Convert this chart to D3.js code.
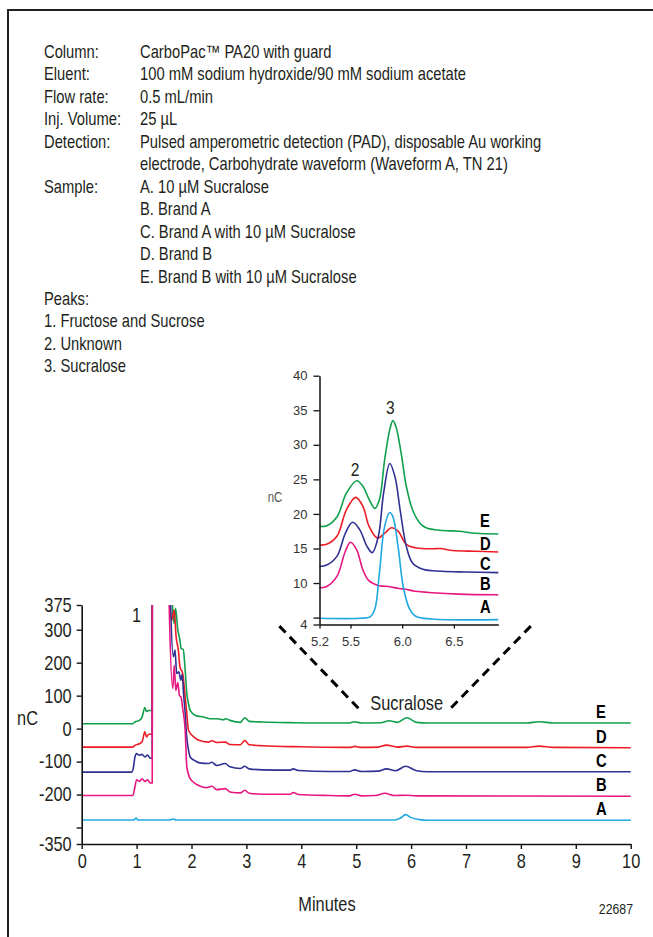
<!DOCTYPE html>
<html>
<head>
<meta charset="utf-8">
<script src="https://cdn.jsdelivr.net/npm/d3@7"></script>
<style>
  body { margin: 0; background: #fff; }
  svg { display: block; }
</style>
</head>
<body>
<div id="chart"></div>
<script>

const FRAME_WIDTH = 653;
const FRAME_HEIGHT = 937;
const ARIAL = "'Liberation Sans', Arial, sans-serif";
const SQUEEZE = 0.82;   // arial squeezed to look like a condensed face
const INK = "#231f20";

// header block
const INFO_LABELS = ["Column:", "Eluent:", "Flow rate:", "Inj. Volume:", "Detection:", "", "Sample:", "", "", "", "",
  "Peaks:", "1. Fructose and Sucrose", "2. Unknown", "3. Sucralose"];
const INFO_VALUES = ["CarboPac\u2122 PA20 with guard", "100 mM sodium hydroxide/90 mM sodium acetate", "0.5 mL/min", "25 \u00b5L",
  "Pulsed amperometric detection (PAD), disposable Au working", "electrode, Carbohydrate waveform (Waveform A, TN 21)",
  "A. 10 \u00b5M Sucralose", "B. Brand A", "C. Brand A with 10 \u00b5M Sucralose", "D. Brand B", "E. Brand B with 10 \u00b5M Sucralose",
  "", "", "", ""];

// samples, drawn in this order (B ends up on top)
const SAMPLES = ["E", "D", "C", "B", "A"];
const COLORS = {A: "#1fa9e1", B: "#e6177f", C: "#2e3191", D: "#ec1c24", E: "#0f9f4d"};

// main chromatogram ticks
const MAIN_X_TICKS = [0, 1, 2, 3, 4, 5, 6, 7, 8, 9, 10];
const MAIN_Y_TICKS = [375, 300, 200, 100, 0, -100, -200, -300, -350];
const MAIN_Y_HIDDEN = [-300];

// main traces: [minutes, nC]  (9999 = off scale, main peak 1)
const mainE = [[0, 15], [0.93, 15], [0.97, 20], [1.05, 25], [1.1, 35], [1.15, 64], [1.18, 52], [1.22, 55], [1.27, 55], [1.285, 55],
  [1.3, 9999], [1.6, 9999], [1.655, 372], [1.68, 320], [1.71, 365], [1.75, 300], [1.79, 268], [1.81, 243], [1.85, 240], [1.885, 177],
  [1.915, 106], [1.94, 80], [1.976, 55], [2.07, 40], [2.22, 35], [2.34, 30], [2.46, 30], [2.58, 27], [2.62, 30], [2.7, 25],
  [2.89, 19], [2.97, 33], [3.05, 22], [3.3, 20], [3.9, 18], [4.5, 17], [4.88, 17], [4.97, 21], [5.1, 17], [5.45, 18], [5.6, 24],
  [5.75, 19], [5.92, 33], [6.1, 19], [6.3, 17], [8.1, 17], [8.33, 21], [8.6, 17], [10, 17]];
const mainD = [[0, -56], [0.93, -56], [0.97, -51], [1.05, -46], [1.1, -40], [1.15, -10], [1.18, -25], [1.22, -17], [1.27, -17], [1.285, -17],
  [1.3, 9999], [1.58, 9999], [1.61, 375], [1.64, 329], [1.685, 360], [1.72, 278], [1.76, 238], [1.79, 187], [1.84, 167], [1.885, 96],
  [1.915, 46], [1.945, -5], [2.04, -25], [2.15, -36], [2.31, -41], [2.37, -37], [2.46, -42], [2.615, -41], [2.7, -48], [2.89, -49],
  [2.97, -36], [3.05, -49], [3.3, -52], [4, -55], [4.88, -57], [4.97, -54], [5.1, -57], [5.4, -56], [5.55, -50], [5.75, -56],
  [5.92, -53], [6.1, -57], [8.1, -57], [8.33, -53], [8.6, -57], [10, -58]];
const mainC = [[0, -132], [0.91, -132], [0.94, -120], [0.97, -86], [1.0, -76], [1.05, -81], [1.1, -78], [1.15, -86], [1.2, -80], [1.25, -90], [1.285, -90],
  [1.3, 9999], [1.58, 9999], [1.62, 375], [1.67, 218], [1.7, 238], [1.73, 167], [1.77, 172], [1.805, 147], [1.83, 165], [1.855, 106],
  [1.885, 46], [1.91, -20], [1.94, -60], [1.976, -86], [2.07, -98], [2.15, -104], [2.31, -106], [2.37, -102], [2.46, -112], [2.615, -106],
  [2.7, -116], [2.89, -121], [2.97, -114], [3.05, -122], [3.3, -125], [3.8, -126], [3.85, -122], [3.95, -127], [4.5, -130], [4.88, -130],
  [4.97, -125], [5.1, -130], [5.4, -129], [5.55, -122], [5.72, -128], [5.9, -114], [6.1, -128], [6.3, -131], [10, -131]];
const mainB = [[0, -203], [0.93, -203], [0.97, -177], [1.0, -155], [1.05, -160], [1.1, -152], [1.15, -160], [1.2, -155], [1.25, -165], [1.285, -165],
  [1.3, 9999], [1.57, 9999], [1.594, 375], [1.66, 122], [1.685, 192], [1.715, 116], [1.75, 140], [1.78, 101], [1.81, 95], [1.84, 60],
  [1.885, -5], [1.915, -117], [1.976, -152], [2.07, -167], [2.15, -174], [2.27, -179], [2.37, -175], [2.46, -185], [2.615, -182],
  [2.7, -192], [2.89, -195], [2.97, -187], [3.05, -196], [3.3, -199], [3.8, -199], [3.85, -194], [3.95, -200], [4.5, -203], [4.88, -204],
  [4.97, -199], [5.1, -204], [5.35, -203], [5.52, -196], [5.7, -203], [5.9, -202], [6.1, -204], [10, -205]];
const mainA = [[0, -277], [0.95, -277], [0.99, -271], [1.02, -277], [1.6, -277], [1.67, -274], [1.72, -277], [5.7, -277], [5.8, -272],
  [5.9, -261], [6.0, -270], [6.15, -276], [6.3, -278], [10, -278]];
const MAIN_TRACES = {A: mainA, B: mainB, C: mainC, D: mainD, E: mainE};

// inset (5.2 - 6.9 min)
const INSET_X_TICKS = [5.2, 5.5, 6.0, 6.5];
const INSET_Y_TICKS = [40, 35, 30, 25, 20, 15, 10, 5, 4];
const INSET_Y_HIDDEN = [5];

const insetE = [[5.2, 18.2], [5.27, 18.3], [5.37, 19.6], [5.46, 23.0], [5.56, 24.8], [5.62, 24.0], [5.68, 22.1], [5.735, 20.8], [5.78, 22.1],
  [5.83, 27.8], [5.88, 32.2], [5.91, 33.5], [5.94, 32.6], [5.99, 28.8], [6.04, 24.0], [6.1, 20.6], [6.17, 18.7], [6.23, 18.0],
  [6.39, 17.6], [6.55, 17.5], [6.71, 17.2], [6.93, 17.1]];
const insetD = [[5.2, 15.5], [5.27, 15.6], [5.37, 16.8], [5.46, 20.6], [5.55, 22.4], [5.62, 21.1], [5.68, 18.2], [5.76, 16.5], [5.83, 17.2],
  [5.895, 18.0], [5.96, 17.5], [6.04, 15.6], [6.13, 15.1], [6.29, 14.95], [6.37, 15.0], [6.49, 14.7], [6.71, 14.6], [6.93, 14.5]];
const insetC = [[5.2, 12.4], [5.27, 12.6], [5.37, 13.9], [5.45, 17.2], [5.52, 18.8], [5.59, 17.7], [5.66, 15.3], [5.71, 14.4], [5.77, 16.8],
  [5.82, 23.0], [5.88, 27.3], [5.93, 25.4], [5.98, 20.6], [6.04, 15.3], [6.1, 12.9], [6.2, 12.0], [6.39, 11.7], [6.61, 11.6], [6.93, 11.5]];
const insetB = [[5.2, 9.3], [5.27, 9.5], [5.37, 11.0], [5.45, 14.6], [5.5, 15.9], [5.56, 14.8], [5.62, 11.9], [5.68, 10.3], [5.78, 9.6],
  [5.87, 9.5], [5.97, 9.2], [6.03, 9.1], [6.13, 8.8], [6.29, 8.6], [6.55, 8.4], [6.93, 8.3]];
const insetA = [[5.2, 4.9], [5.59, 4.9], [5.69, 5.1], [5.735, 6.2], [5.78, 11.5], [5.83, 18.2], [5.88, 20.2], [5.91, 19.6], [5.96, 15.3],
  [6.01, 9.5], [6.07, 6.3], [6.13, 5.2], [6.29, 4.8], [6.93, 4.7]];
const INSET_TRACES = {A: insetA, B: insetB, C: insetC, D: insetD, E: insetE};
// where the sample letters of the inset sit (nC)
const INSET_LABEL_AT = {E: 18.1, D: 14.8, C: 11.9, B: 9.0, A: 5.6};

// connector from the sucralose region to the inset, in main-chart units
const GUIDE_LEFT = [[3.6, 311], [5.05, 60]];
const GUIDE_RIGHT = [[8.18, 311], [6.67, 53]];


const FRAME1 = d3.select("#chart")
  .append("svg")
    .attr("width", FRAME_WIDTH)
    .attr("height", FRAME_HEIGHT);

// condensed-looking text
function narrowText(parent, x, y, str, size) {
  return parent.append("text")
    .attr("transform", "translate(" + x + "," + y + ") scale(" + SQUEEZE + ",1)")
    .attr("font-family", ARIAL)
    .attr("font-size", size)
    .attr("fill", INK)
    .text(str);
}

// page border (left + top visible)
FRAME1.append("path")
  .attr("d", "M8," + FRAME_HEIGHT + "V10H" + FRAME_WIDTH)
  .attr("fill", "none")
  .attr("stroke", INK)
  .attr("stroke-width", 2);

// header text
INFO_LABELS.forEach((t, i) => {
  const yy = 58 + i * 22.45;
  if (t) narrowText(FRAME1, 44, yy, t, 18);
  if (INFO_VALUES[i]) narrowText(FRAME1, 140, yy, INFO_VALUES[i], 18);
});

// ---------- main chromatogram ----------
const MAIN = {left: 81.7, right: 630.7, top: 605, bottom: 844};

const x = d3.scaleLinear().domain([0, 10]).range([MAIN.left, MAIN.right]);
const y = d3.scaleLinear().domain([-350, 375]).range([MAIN.bottom, MAIN.top]);

FRAME1.append("clipPath")
  .attr("id", "mainclip")
  .append("rect")
    .attr("x", MAIN.left)
    .attr("y", MAIN.top)
    .attr("width", MAIN.right - MAIN.left + 4)
    .attr("height", MAIN.bottom - MAIN.top);

const mainLine = d3.line()
  .x(d => x(d[0]))
  .y(d => y(d[1]))
  .curve(d3.curveMonotoneX);

const mainG = FRAME1.append("g").attr("clip-path", "url(#mainclip)");
SAMPLES.forEach(s => {
  mainG.append("path")
    .datum(MAIN_TRACES[s])
    .attr("d", mainLine)
    .attr("fill", "none")
    .attr("stroke", COLORS[s])
    .attr("stroke-width", 1.6)
    .attr("stroke-linejoin", "round");
});

// axes
const xAxis = FRAME1.append("g")
  .attr("transform", "translate(0," + MAIN.bottom + ")")
  .call(d3.axisBottom(x).tickValues(MAIN_X_TICKS).tickSize(5).tickSizeOuter(0).tickPadding(5).tickFormat(d => String(d)));

const yAxis = FRAME1.append("g")
  .attr("transform", "translate(" + MAIN.left + ",0)")
  .call(d3.axisLeft(y).tickValues(MAIN_Y_TICKS).tickSize(5).tickSizeOuter(0).tickPadding(5)
    .tickFormat(d => MAIN_Y_HIDDEN.includes(d) ? "" : String(d)));

[xAxis, yAxis].forEach(g => {
  g.attr("font-family", ARIAL).attr("font-size", 20);
  g.select(".domain").attr("stroke", "#111").attr("stroke-width", 1.6);
  g.selectAll(".tick line").attr("stroke", "#111").attr("stroke-width", 1.4);
  g.selectAll(".tick text").attr("fill", INK).attr("transform", "scale(" + SQUEEZE + ",1)");
});
yAxis.selectAll(".tick text").attr("x", -10 / SQUEEZE);

narrowText(FRAME1, 38, 725, "nC", 20).attr("text-anchor", "end");
narrowText(FRAME1, 327, 911, "Minutes", 20).attr("text-anchor", "middle");
narrowText(FRAME1, 633, 914, "22687", 15).attr("text-anchor", "end");
narrowText(FRAME1, x(1.0), y(323), "1", 20).attr("text-anchor", "middle");
narrowText(FRAME1, x(5.92), y(56), "Sucralose", 20).attr("text-anchor", "middle");

// sample letters at right of main traces
SAMPLES.forEach(s => {
  const tr = MAIN_TRACES[s];
  narrowText(FRAME1, x(9.37), y(tr[tr.length - 1][1]) - 5, s, 18)
    .attr("font-weight", "bold").attr("fill", "#000");
});

// dashed guides
[GUIDE_LEFT, GUIDE_RIGHT].forEach(g => {
  FRAME1.append("path")
    .datum(g)
    .attr("d", d3.line().x(d => x(d[0])).y(d => y(d[1])))
    .attr("fill", "none")
    .attr("stroke", "#000")
    .attr("stroke-width", 3)
    .attr("stroke-dasharray", "9,6");
});

// ---------- inset ----------
const INSET = {left: 319.5, right: 498.3, top: 375.7, bottom: 624.5};

const ix = d3.scaleLinear().domain([5.2, 6.93]).range([INSET.left, INSET.right]);
const iy = d3.scaleLinear().domain([4, 40]).range([INSET.bottom, INSET.top]);

const insetLine = d3.line()
  .x(d => ix(d[0]))
  .y(d => iy(d[1]))
  .curve(d3.curveCatmullRom.alpha(0.5));

const insetG = FRAME1.append("g");
SAMPLES.forEach(s => {
  insetG.append("path")
    .datum(INSET_TRACES[s])
    .attr("d", insetLine)
    .attr("fill", "none")
    .attr("stroke", COLORS[s])
    .attr("stroke-width", 1.6);
});

const ixAxis = FRAME1.append("g")
  .attr("transform", "translate(0," + INSET.bottom + ")")
  .call(d3.axisBottom(ix).tickValues(INSET_X_TICKS).tickSize(4).tickSizeOuter(0).tickPadding(8).tickFormat(d3.format(".1f")));

const iyAxis = FRAME1.append("g")
  .attr("transform", "translate(" + INSET.left + ",0)")
  .call(d3.axisLeft(iy).tickValues(INSET_Y_TICKS).tickSize(6).tickSizeOuter(0).tickPadding(6)
    .tickFormat(d => INSET_Y_HIDDEN.includes(d) ? "" : String(d)));

[ixAxis, iyAxis].forEach(g => {
  g.attr("font-family", ARIAL).attr("font-size", 13);
  g.select(".domain").attr("stroke", "#111").attr("stroke-width", 1.5);
  g.selectAll(".tick line").attr("stroke", "#111").attr("stroke-width", 1.3);
  g.selectAll(".tick text").attr("fill", "#333");
});

narrowText(FRAME1, 275, 502, "nC", 14).attr("text-anchor", "middle").attr("fill", "#555");
narrowText(FRAME1, ix(5.545), iy(25.5), "2", 19).attr("text-anchor", "middle");
narrowText(FRAME1, ix(5.885), iy(34.5), "3", 19).attr("text-anchor", "middle");

SAMPLES.forEach(s => {
  narrowText(FRAME1, 480, iy(INSET_LABEL_AT[s]), s, 18)
    .attr("font-weight", "bold").attr("fill", "#000");
});

</script>
</body>
</html>
